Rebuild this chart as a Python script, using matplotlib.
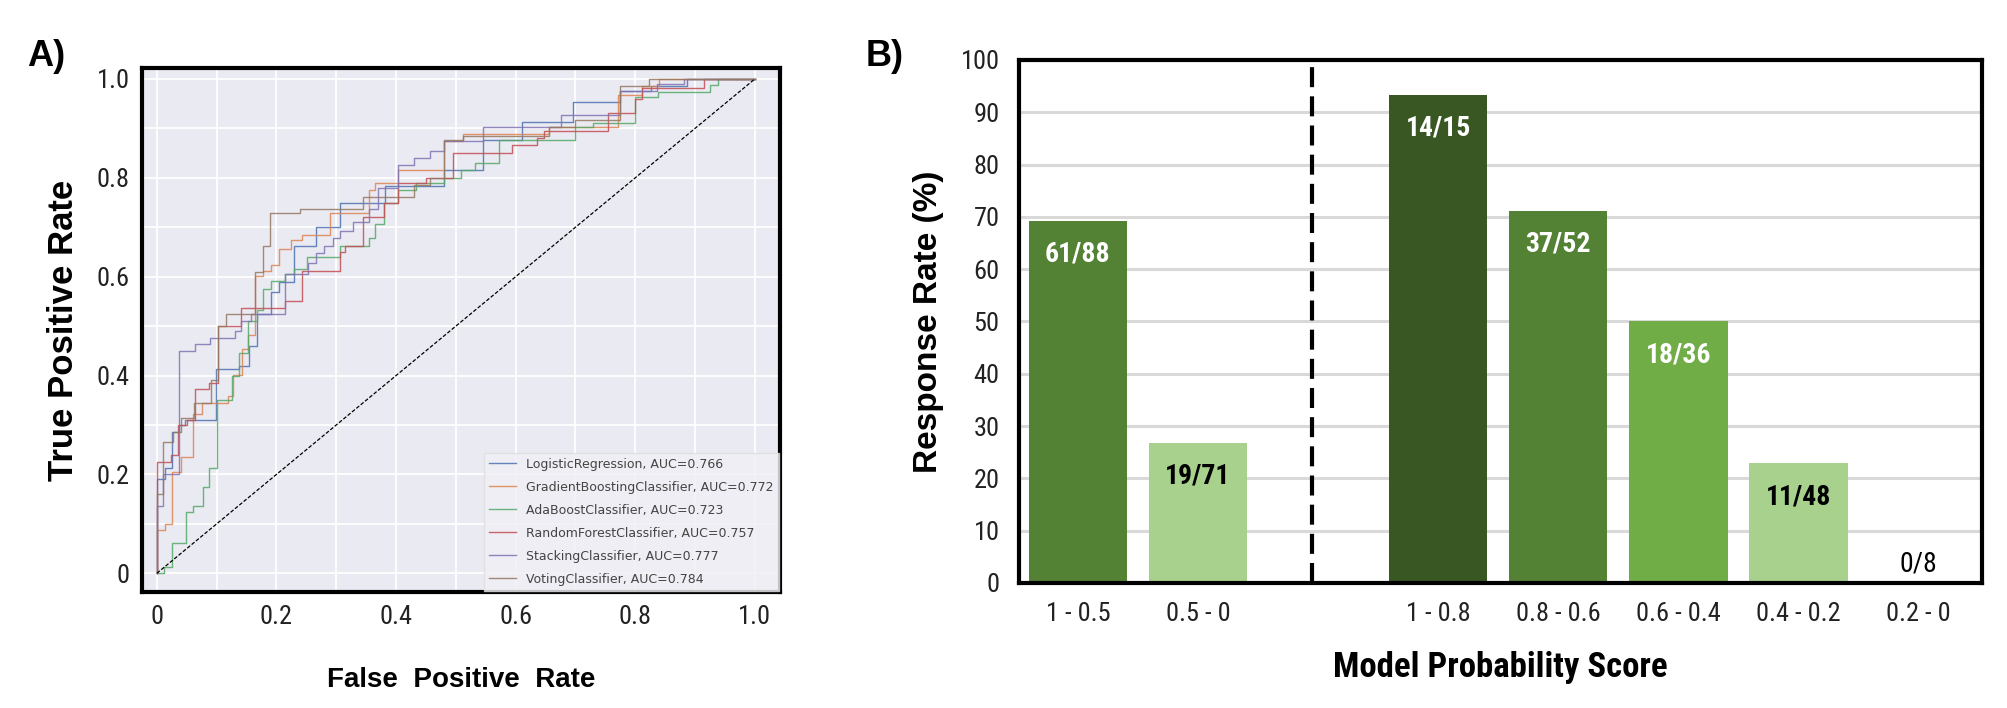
import numpy as np
import matplotlib
matplotlib.use("Agg")
import matplotlib.pyplot as plt
from matplotlib import font_manager

# pick a condensed face (with a bold weight) for ticks / bar labels if installed
cands = {}
for f in font_manager.fontManager.ttflist:
    if "Narrow" in f.name or "Condensed" in f.name:
        w = f.weight if isinstance(f.weight, int) else (700 if "bold" in str(f.weight) else 400)
        cands.setdefault(f.name, set()).add(w)
NARROW = "Liberation Sans"
prefer = ["Liberation Sans Narrow", "Arial Narrow", "Roboto Condensed", "DejaVu Sans Condensed",
          "Open Sans Condensed", "Noto Sans Condensed"]
with_bold = [n for n in prefer if n in cands and max(cands[n]) >= 600]
with_bold += sorted(n for n in cands if max(cands[n]) >= 600 and 400 in cands[n])
if with_bold:
    NARROW = with_bold[0]
SANS = "Liberation Sans"

# ---- panel A data: ROC corner points (fpr, tpr reached at that fpr) ----
roc_names = ["LogisticRegression", "GradientBoostingClassifier", "AdaBoostClassifier",
             "RandomForestClassifier", "StackingClassifier", "VotingClassifier"]
roc_auc = [0.766, 0.772, 0.723, 0.757, 0.777, 0.784]
roc_colors = ["#4C72B0", "#DD8452", "#55A868", "#C44E52", "#8172B3", "#937860"]

lr_fpr = [0, 0, 0.013, 0.025, 0.037, 0.047, 0.099, 0.137, 0.154, 0.167, 0.19, 0.205, 0.229,
          0.266, 0.306, 0.382, 0.481, 0.546, 0.611, 0.696, 0.775, 0.826, 0.887, 1.0]
lr_tpr = [0, 0.19, 0.212, 0.285, 0.30, 0.31, 0.413, 0.42, 0.46, 0.525, 0.569, 0.59, 0.663,
          0.70, 0.75, 0.783, 0.815, 0.877, 0.913, 0.953, 0.975, 0.985, 1.0, 1.0]

gb_fpr = [0, 0, 0.013, 0.025, 0.04, 0.061, 0.075, 0.119, 0.128, 0.143, 0.152, 0.164, 0.177,
          0.191, 0.205, 0.225, 0.242, 0.29, 0.355, 0.365, 0.404, 0.481, 0.512, 0.655, 0.771,
          0.812, 0.84, 1.0]
gb_tpr = [0, 0.087, 0.099, 0.205, 0.235, 0.322, 0.344, 0.359, 0.402, 0.453, 0.482, 0.601, 0.612,
          0.623, 0.656, 0.674, 0.685, 0.728, 0.775, 0.79, 0.815, 0.875, 0.888, 0.902, 0.967,
          0.985, 1.0, 1.0]

ada_fpr = [0, 0.012, 0.025, 0.049, 0.06, 0.077, 0.087, 0.1, 0.126, 0.137, 0.152, 0.167, 0.177,
           0.191, 0.215, 0.229, 0.251, 0.307, 0.355, 0.365, 0.38, 0.403, 0.433, 0.481, 0.509,
           0.532, 0.572, 0.70, 0.73, 0.80, 0.838, 0.925, 0.938, 1.0]
ada_tpr = [0, 0.012, 0.061, 0.124, 0.136, 0.174, 0.212, 0.35, 0.40, 0.446, 0.511, 0.533, 0.576,
           0.591, 0.605, 0.616, 0.639, 0.663, 0.678, 0.707, 0.75, 0.775, 0.79, 0.80, 0.815,
           0.83, 0.877, 0.902, 0.911, 0.964, 0.974, 0.988, 1.0, 1.0]

rf_fpr = [0, 0, 0.024, 0.035, 0.051, 0.063, 0.087, 0.102, 0.14, 0.215, 0.242, 0.306, 0.314,
          0.345, 0.38, 0.404, 0.45, 0.495, 0.594, 0.635, 0.648, 0.754, 0.799, 0.812, 0.915, 1.0]
rf_tpr = [0, 0.225, 0.24, 0.30, 0.31, 0.373, 0.384, 0.50, 0.536, 0.551, 0.612, 0.649, 0.663,
          0.721, 0.75, 0.79, 0.80, 0.851, 0.866, 0.88, 0.895, 0.931, 0.96, 0.982, 1.0, 1.0]

st_fpr = [0, 0, 0.01, 0.037, 0.063, 0.089, 0.13, 0.14, 0.157, 0.215, 0.253, 0.266, 0.28, 0.294,
          0.307, 0.328, 0.355, 0.369, 0.404, 0.43, 0.457, 0.481, 0.546, 0.676, 0.775, 0.836,
          0.881, 1.0]
st_tpr = [0, 0.136, 0.20, 0.45, 0.464, 0.475, 0.49, 0.51, 0.525, 0.605, 0.627, 0.648, 0.663,
          0.678, 0.692, 0.71, 0.736, 0.779, 0.826, 0.841, 0.855, 0.875, 0.902, 0.928, 0.975,
          0.989, 1.0, 1.0]

vo_fpr = [0, 0, 0.01, 0.027, 0.041, 0.062, 0.09, 0.102, 0.116, 0.164, 0.177, 0.189, 0.239,
          0.345, 0.43, 0.457, 0.481, 0.512, 0.655, 0.70, 0.775, 0.823, 1.0]
vo_tpr = [0, 0.16, 0.265, 0.286, 0.315, 0.345, 0.39, 0.50, 0.525, 0.609, 0.663, 0.729, 0.737,
          0.761, 0.786, 0.80, 0.877, 0.884, 0.902, 0.917, 0.985, 1.0, 1.0]

roc_fpr = [lr_fpr, gb_fpr, ada_fpr, rf_fpr, st_fpr, vo_fpr]
roc_tpr = [lr_tpr, gb_tpr, ada_tpr, rf_tpr, st_tpr, vo_tpr]

# ---- panel B data ----
bin_labels = ["1 - 0.5", "0.5 - 0", "1 - 0.8", "0.8 - 0.6", "0.6 - 0.4", "0.4 - 0.2", "0.2 - 0"]
bin_pos = [0, 1, 3, 4, 5, 6, 7]
response = [69.3, 26.8, 93.3, 71.2, 50.0, 22.9, 0.0]
counts = ["61/88", "19/71", "14/15", "37/52", "18/36", "11/48", "0/8"]
bar_colors = ["#548235", "#A9D18E", "#385723", "#548235", "#70AD47", "#A9D18E", "#A9D18E"]
text_colors = ["white", "black", "white", "white", "white", "black", "black"]

fig = plt.figure(figsize=(20.08, 7.08), dpi=100)

# ================= panel A =================
ax = fig.add_axes([0.0707, 0.1638, 0.3177, 0.740])
ax.set_facecolor("#EAEAF2")
for fpr, tpr, name, auc, c in zip(roc_fpr, roc_tpr, roc_names, roc_auc, roc_colors):
    ax.plot(fpr, tpr, drawstyle="steps-post", color=c, lw=1.0, alpha=0.85,
            label="{}, AUC={:.3f}".format(name, auc))
ax.plot([0, 1], [0, 1], color="black", lw=0.9, ls=(0, (3, 1.5)))
ax.set_xlim(-0.025, 1.042)
ax.set_ylim(-0.038, 1.022)
ticks = np.round(np.arange(0, 1.01, 0.1), 1)
lbls = ["0" if t == 0 else ("{:.1f}".format(t) if round(t * 10) % 2 == 0 else "") for t in ticks]
ax.set_xticks(ticks)
ax.set_xticklabels(lbls)
ax.set_yticks(ticks)
ax.set_yticklabels(lbls)
ax.grid(True, color="white", lw=1.3)
ax.set_axisbelow(True)
ax.tick_params(length=0, labelsize=19, pad=9)
for t in ax.get_xticklabels() + ax.get_yticklabels():
    t.set_fontfamily(NARROW)
    t.set_color("#222222")
for s in ax.spines.values():
    s.set_linewidth(3)
    s.set_color("black")
ax.set_xlabel("False  Positive  Rate", fontsize=20, fontweight="bold", family=SANS, labelpad=28)
ax.set_ylabel("True Positive Rate", fontsize=25, fontweight="bold", family=SANS, labelpad=12)
leg = ax.legend(loc="lower right", fontsize=9, frameon=True, borderaxespad=0.1,
                handlelength=2.2, labelspacing=0.8, fancybox=False)
leg.get_frame().set_facecolor("#F0F0F5")
leg.get_frame().set_edgecolor("#DDDDDD")
for t in leg.get_texts():
    t.set_color("#444444")
fig.text(46 / 2008, 1 - 56 / 708, "A)", fontsize=26, fontweight="bold", family=SANS,
         ha="center", va="center")

# ================= panel B =================
bx = fig.add_axes([0.5075, 0.1766, 0.4796, 0.7387])
bx.bar(bin_pos, response, width=0.82, color=bar_colors, zorder=2)
for x, v, lab, tc in zip(bin_pos, response, counts, text_colors):
    dy = -24 if v > 5 else 14
    bx.annotate(lab, (x, v), xytext=(0, dy), textcoords="offset points", ha="center",
                va="center", color=tc, fontsize=20, family=NARROW,
                fontweight="bold" if v > 5 else "normal")
bx.axvline(1.95, color="black", lw=3, ls=(0, (4.8, 2.2)), zorder=3)
bx.set_xlim(-0.49, 7.53)
bx.set_ylim(0, 100)
bx.set_yticks(range(0, 101, 10))
bx.set_xticks(bin_pos)
bx.set_xticklabels(bin_labels)
bx.yaxis.grid(True, color="#D9D9D9", lw=2.2, zorder=0)
bx.set_axisbelow(True)
bx.tick_params(length=0, labelsize=19, pad=14)
for t in bx.get_xticklabels() + bx.get_yticklabels():
    t.set_fontfamily(NARROW)
    t.set_color("#222222")
for s in bx.spines.values():
    s.set_linewidth(3)
    s.set_color("black")
bx.set_xlabel("Model Probability Score", fontsize=25, fontweight="bold", family=NARROW,
              labelpad=18)
bx.set_ylabel("Response Rate (%)", fontsize=24, fontweight="bold", family=SANS, labelpad=12)
fig.text(885 / 2008, 1 - 56 / 708, "B)", fontsize=26, fontweight="bold", family=SANS,
         ha="center", va="center")

fig.savefig("out.png", dpi=100)
